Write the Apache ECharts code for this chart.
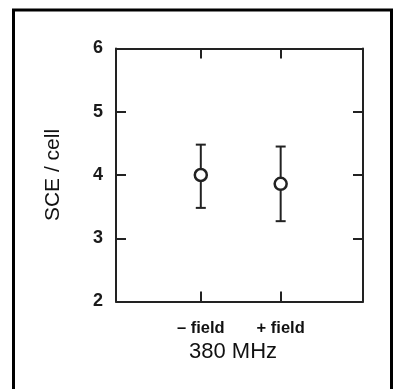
<!DOCTYPE html>
<html>
<head>
<meta charset="utf-8">
<script src="https://cdn.jsdelivr.net/npm/echarts@6/dist/echarts.min.js"></script>
<style>
  html, body { margin: 0; padding: 0; background: #fff; }
  #chart { width: 393px; height: 389px; }
</style>
</head>
<body>
<div id="chart"></div>
<script>
// Conditions, their x positions on the axis, and SCE per cell (mean with error range)
const categories = ['– field', '+ field'];
const positions = [1.03, 2];
const means = [4.0, 3.86];
const upper = [4.48, 4.45];
const lower = [3.48, 3.27];
const yTicks = [2, 3, 4, 5, 6];
const yTitle = 'SCE / cell';
const caption = '380 MHz';

const ink = '#222';
const font = '"Liberation Sans", Arial, sans-serif';
const chart = echarts.init(document.getElementById('chart'), null, { renderer: 'canvas' });

const pointData = positions.map((x, i) => [x, means[i]]);
const barData = positions.map((x, i) => [x, lower[i], upper[i]]);

const labelFor = v => {
  const i = positions.findIndex(p => Math.abs(p - v) < 1e-6);
  return i >= 0 ? categories[i] : '';
};

// Each axis gets its own style objects so nothing is shared between them
const lineStyle = () => ({ color: ink, width: 2 });
const xAxisFor = (position, label) => ({
  type: 'value', min: 0, max: 3, position,
  splitLine: { show: false },
  axisLine: { show: true, onZero: false, lineStyle: lineStyle() },
  axisTick: { show: true, inside: true, length: 10, customValues: positions, lineStyle: lineStyle() },
  axisLabel: label
});
const yAxisFor = (position, label, extra) => Object.assign({
  type: 'value', min: yTicks[0], max: yTicks[yTicks.length - 1], interval: 1, position,
  splitLine: { show: false },
  axisLine: { show: true, onZero: false, lineStyle: lineStyle() },
  axisTick: { show: true, inside: true, length: 10, lineStyle: lineStyle() },
  axisLabel: label
}, extra || {});

chart.setOption({
  animation: false,
  backgroundColor: '#fff',
  grid: { left: 116, right: 30, top: 48.5, bottom: 87.5, containLabel: false },
  xAxis: [
    xAxisFor('bottom', {
      show: true, customValues: positions, margin: 18,
      formatter: v => labelFor(v),
      color: '#111', fontFamily: font, fontWeight: 'bold', fontSize: 16.5
    }),
    xAxisFor('top', { show: false })
  ],
  yAxis: [
    yAxisFor('left', {
      show: true, margin: 13, color: '#1a1a1a',
      fontFamily: font, fontWeight: 'bold', fontSize: 18
    }, {
      name: yTitle, nameLocation: 'middle', nameGap: 52, nameRotate: 90,
      nameTextStyle: { color: '#111', fontFamily: font, fontSize: 21 }
    }),
    yAxisFor('right', { show: false })
  ],
  graphic: [
    {
      type: 'rect', silent: true,
      shape: { x: 13.5, y: 10, width: 378, height: 400 },
      style: { fill: 'none', stroke: '#000', lineWidth: 3 }
    },
    {
      type: 'text', silent: true, x: 233, y: 352,
      style: {
        text: caption, align: 'center', verticalAlign: 'middle',
        fill: '#111', font: '22px ' + font
      }
    }
  ],
  series: [
    {
      type: 'custom',
      xAxisIndex: 0, yAxisIndex: 0,
      data: barData,
      encode: { x: 0, y: [1, 2] },
      renderItem: (params, api) => {
        const x = api.value(0);
        const lo = api.coord([x, api.value(1)]);
        const hi = api.coord([x, api.value(2)]);
        const cap = 5;
        const style = { stroke: ink, lineWidth: 2 };
        return {
          type: 'group',
          children: [
            { type: 'line', shape: { x1: lo[0], y1: lo[1], x2: hi[0], y2: hi[1] }, style },
            { type: 'line', shape: { x1: hi[0] - cap, y1: hi[1], x2: hi[0] + cap, y2: hi[1] }, style },
            { type: 'line', shape: { x1: lo[0] - cap, y1: lo[1], x2: lo[0] + cap, y2: lo[1] }, style }
          ]
        };
      },
      z: 2
    },
    {
      type: 'scatter',
      xAxisIndex: 0, yAxisIndex: 0,
      data: pointData,
      symbol: 'circle', symbolSize: 12,
      itemStyle: { color: '#fff', borderColor: ink, borderWidth: 2.5, opacity: 1 },
      z: 3
    }
  ]
});
</script>
</body>
</html>
